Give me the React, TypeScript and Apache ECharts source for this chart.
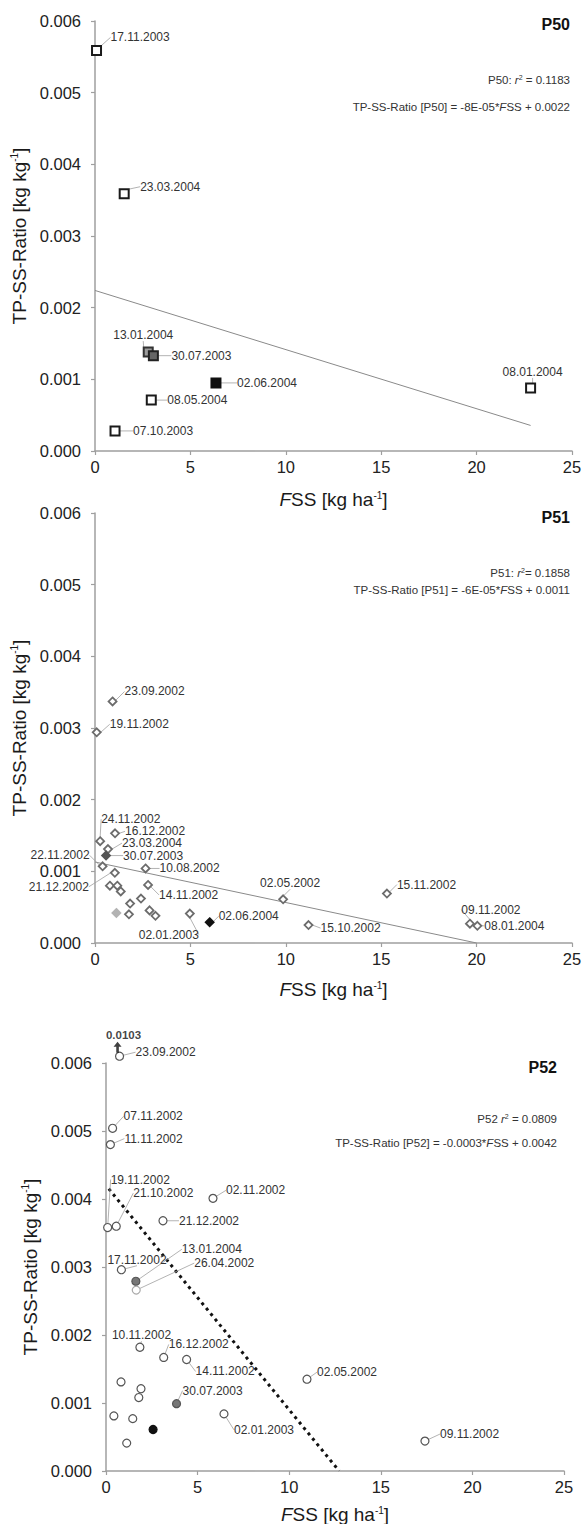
import React, { useEffect, useRef } from "react";
import * as echarts from "echarts";

type Align = "left" | "right" | "center";
type Kind = "open" | "pale" | "light" | "mid" | "solid";

const FONT = "'Liberation Sans', Arial, Helvetica, sans-serif";

// Shared axis ranges
const X_MIN = 0;
const X_MAX = 25;
const X_STEP = 5;
const Y_MIN = 0;
const Y_MAX = 0.006;
const Y_STEP = 0.001;
// Values above the ratio axis are pinned just over its top end
const Y_CEILING = 0.0061;

// ---------- P50 ----------
const P50_DATES = ["17.11.2003", "23.03.2004", "13.01.2004", "30.07.2003", "02.06.2004", "08.05.2004", "07.10.2003", "08.01.2004"];
const P50_FSS = [0.08, 1.53, 2.79, 3.06, 6.34, 2.95, 1.05, 22.83];
const P50_RATIO = [0.00559, 0.00359, 0.00138, 0.00133, 0.00095, 0.00071, 0.00028, 0.00088];
const P50_KIND: Kind[] = ["open", "open", "light", "mid", "solid", "open", "open", "open"];
const P50_FIT = [-0.0000825, 0.00224]; // slope, intercept
const P50_FIT_RANGE = [0, 22.83];
const P50_R2 = "0.1183";

// ---------- P51 ----------
const P51_DATES = [
  "23.09.2002", "19.11.2002", "24.11.2002", "16.12.2002", "23.03.2004", "30.07.2003", "22.11.2002",
  "10.08.2002", "21.12.2002", "14.11.2002", "", "", "", "", "", "", "", "", "",
  "02.01.2003", "02.06.2004", "02.05.2002", "15.10.2002", "15.11.2002", "09.11.2002", "08.01.2004",
];
const P51_FSS = [
  0.92, 0.09, 0.27, 1.05, 0.68, 0.58, 0.4, 2.65, 1.04, 2.78, 0.78, 1.17, 1.35, 2.41, 1.84, 1.12, 1.78,
  2.86, 3.17, 4.97, 6.01, 9.86, 11.19, 15.3, 19.65, 20.04,
];
const P51_RATIO = [
  0.00337, 0.00294, 0.00142, 0.00153, 0.00131, 0.00122, 0.00107, 0.00104, 0.00098, 0.00081, 0.0008,
  0.0008, 0.00072, 0.00062, 0.00055, 0.00042, 0.0004, 0.000455, 0.00038, 0.00041, 0.00029, 0.00061,
  0.00025, 0.00069, 0.00027, 0.00024,
];
const P51_KIND: Kind[] = [
  "open", "open", "open", "open", "open", "mid", "open", "open", "open", "open", "open", "open", "open",
  "open", "open", "light", "open", "open", "open", "open", "solid", "open", "open", "open", "open", "open",
];
const P51_FIT = [-0.0000565, 0.00113];
const P51_FIT_RANGE = [0, 20];
const P51_R2 = "0.1858";

// ---------- P52 ----------
const P52_DATES = [
  "23.09.2002", "07.11.2002", "11.11.2002", "19.11.2002", "21.10.2002", "02.11.2002", "21.12.2002",
  "17.11.2002", "13.01.2004", "26.04.2002", "10.11.2002", "16.12.2002", "14.11.2002", "02.05.2002",
  "", "", "", "30.07.2003", "", "", "02.01.2003", "", "", "09.11.2002",
];
const P52_FSS = [
  0.74, 0.36, 0.24, 0.09, 0.56, 5.84, 3.11, 0.84, 1.63, 1.65, 1.85, 3.15, 4.4, 10.97, 0.82, 1.91, 1.79,
  3.85, 0.43, 1.46, 6.44, 2.57, 1.13, 17.41,
];
const P52_RATIO = [
  0.0103, 0.00504, 0.0048, 0.00358, 0.0036, 0.00401, 0.00368, 0.00296, 0.00279, 0.00266, 0.00182,
  0.00167, 0.00164, 0.00135, 0.00131, 0.00121, 0.00108, 0.00099, 0.00081, 0.00077, 0.00084, 0.00061,
  0.00041, 0.00044,
];
const P52_KIND: Kind[] = [
  "open", "open", "open", "open", "open", "open", "open", "open", "mid", "pale", "open", "open", "open",
  "open", "open", "open", "open", "mid", "open", "open", "open", "solid", "open", "open",
];
const P52_FIT = [-0.00033, 0.0042];
const P52_FIT_RANGE = [0.15, 12.72];
const P52_R2 = "0.0809";

// Label placement: offset from the marker centre and text anchor
const P50_LABEL_POS: Record<string, [number, number, Align]> = {
  "17.11.2003": [14, -13, "left"],
  "23.03.2004": [16, -7, "left"],
  "13.01.2004": [-5, -17, "center"],
  "30.07.2003": [18, 0, "left"],
  "02.06.2004": [21, 0, "left"],
  "08.05.2004": [16, 0, "left"],
  "07.10.2003": [18, 0, "left"],
  "08.01.2004": [2, -16, "center"],
};
const P51_LABEL_POS: Record<string, [number, number, Align]> = {
  "23.09.2002": [12, -10, "left"],
  "19.11.2002": [13, -8, "left"],
  "24.11.2002": [1, -22, "left"],
  "16.12.2002": [10, -2, "left"],
  "23.03.2004": [14, -6, "left"],
  "30.07.2003": [17, 0, "left"],
  "22.11.2002": [-13, -11, "right"],
  "10.08.2002": [14, 0, "left"],
  "21.12.2002": [-26, 14, "right"],
  "14.11.2002": [11, 10, "left"],
  "02.01.2003": [9, 21, "right"],
  "02.06.2004": [9, -6, "left"],
  "02.05.2002": [7, -16, "center"],
  "15.10.2002": [12, 3, "left"],
  "15.11.2002": [10, -9, "left"],
  "09.11.2002": [21, -14, "center"],
  "08.01.2004": [7, 0, "left"],
};
const P52_LABEL_POS: Record<string, [number, number, Align]> = {
  "23.09.2002": [16, -4, "left"],
  "07.11.2002": [11, -12, "left"],
  "11.11.2002": [14, -6, "left"],
  "19.11.2002": [3, -48, "left"],
  "21.10.2002": [17, -33, "left"],
  "02.11.2002": [13, -8, "left"],
  "21.12.2002": [16, 0, "left"],
  "17.11.2002": [-14, -10, "left"],
  "13.01.2004": [46, -32, "left"],
  "26.04.2002": [58, -27, "left"],
  "10.11.2002": [-28, -12, "left"],
  "16.12.2002": [5, -13, "left"],
  "14.11.2002": [9, 12, "left"],
  "02.05.2002": [10, -7, "left"],
  "30.07.2003": [6, -13, "left"],
  "02.01.2003": [10, 16, "left"],
  "09.11.2002": [15, -7, "left"],
};

// Plot areas in pixels, plus text rows measured from each area's top
const LAYOUT = [
  { left: 95, top: 21, width: 477, height: 430, textRight: 570, titleDy: 3, r2Dy: 59, eqDy: 86, xNameGap: 39 },
  { left: 95, top: 513, width: 477, height: 430, textRight: 570, titleDy: 4, r2Dy: 60, eqDy: 77, xNameGap: 37 },
  { left: 106, top: 1063, width: 458, height: 408, textRight: 557, titleDy: 4, r2Dy: 56, eqDy: 80, xNameGap: 34 },
];

const MARKERS: Record<string, Record<Kind, { color: string; borderColor: string }>> = {
  rect: {
    open: { color: "#ffffff", borderColor: "#1a1a1a" },
    pale: { color: "#ffffff", borderColor: "#9a9a9a" },
    light: { color: "#9c9c9c", borderColor: "#333333" },
    mid: { color: "#666666", borderColor: "#222222" },
    solid: { color: "#111111", borderColor: "#111111" },
  },
  diamond: {
    open: { color: "#ffffff", borderColor: "#6c6c6c" },
    pale: { color: "#ffffff", borderColor: "#aaaaaa" },
    light: { color: "#b3b3b3", borderColor: "#b3b3b3" },
    mid: { color: "#555555", borderColor: "#555555" },
    solid: { color: "#111111", borderColor: "#111111" },
  },
  circle: {
    open: { color: "#ffffff", borderColor: "#555555" },
    pale: { color: "#ffffff", borderColor: "#aaaaaa" },
    light: { color: "#aaaaaa", borderColor: "#777777" },
    mid: { color: "#777777", borderColor: "#555555" },
    solid: { color: "#111111", borderColor: "#111111" },
  },
};

function fmtSlope(v: number): string {
  if (Math.abs(v) < 0.0001) {
    const [m, e] = v.toExponential(0).split("e");
    const exp = parseInt(e, 10);
    return `${m}E${exp < 0 ? "-" : "+"}${String(Math.abs(exp)).padStart(2, "0")}`;
  }
  return v.toFixed(4);
}

interface PanelDef {
  id: string;
  dates: string[];
  fss: number[];
  ratio: number[];
  kind: Kind[];
  labelPos: Record<string, [number, number, Align]>;
  fit: number[];
  fitRange: number[];
  r2Text: string;
  symbol: "rect" | "diamond" | "circle";
  symbolSize: number;
  borderWidth: number;
  fitStyle: any;
}

const PANELS: PanelDef[] = [
  {
    id: "P50", dates: P50_DATES, fss: P50_FSS, ratio: P50_RATIO, kind: P50_KIND, labelPos: P50_LABEL_POS,
    fit: P50_FIT, fitRange: P50_FIT_RANGE, r2Text: `P50: {i|r}{s|2} = ${P50_R2}`,
    symbol: "rect", symbolSize: 9, borderWidth: 2,
    fitStyle: { color: "#8a8a8a", width: 1 },
  },
  {
    id: "P51", dates: P51_DATES, fss: P51_FSS, ratio: P51_RATIO, kind: P51_KIND, labelPos: P51_LABEL_POS,
    fit: P51_FIT, fitRange: P51_FIT_RANGE, r2Text: `P51: {i|r}{s|2}= ${P51_R2}`,
    symbol: "diamond", symbolSize: 8, borderWidth: 1.8,
    fitStyle: { color: "#8a8a8a", width: 1 },
  },
  {
    id: "P52", dates: P52_DATES, fss: P52_FSS, ratio: P52_RATIO, kind: P52_KIND, labelPos: P52_LABEL_POS,
    fit: P52_FIT, fitRange: P52_FIT_RANGE, r2Text: `P52 {i|r}{s|2} = ${P52_R2}`,
    symbol: "circle", symbolSize: 8, borderWidth: 1.2,
    fitStyle: { color: "#111111", width: 3, type: [3, 4] },
  },
];

const ARROW_PATH = "path://M4,0 L8,5 L5.3,5 L5.3,11 L2.7,11 L2.7,5 L0,5 Z";

function buildOption() {
  const axisGray = "#9f9f9f";
  const nameRich = {
    i: { fontStyle: "italic", fontSize: 19, fontFamily: FONT, color: "#1a1a1a" },
    sup: { fontSize: 10, fontFamily: FONT, color: "#1a1a1a", verticalAlign: "top" },
  };

  const series: any[] = [];
  const graphic: any[] = [];

  PANELS.forEach((p, idx) => {
    const styles = MARKERS[p.symbol];
    series.push({
      type: "scatter",
      xAxisIndex: idx,
      yAxisIndex: idx,
      symbol: p.symbol,
      symbolSize: p.symbolSize,
      clip: false,
      silent: true,
      z: 3,
      itemStyle: { borderWidth: p.borderWidth, opacity: 1 },
      label: {
        show: true,
        position: "inside",
        fontSize: 12,
        fontFamily: FONT,
        color: "#333333",
        formatter: (params: any) => p.dates[params.dataIndex],
      },
      labelLine: { show: true, length2: 0, lineStyle: { color: "#a0a0a0", width: 0.8 } },
      labelLayout: (params: any) => {
        const pos = p.labelPos[p.dates[params.dataIndex]];
        if (!pos) return {};
        return { dx: pos[0], dy: pos[1], align: pos[2], verticalAlign: "middle" };
      },
      data: p.fss.map((x, i) => ({
        value: [x, Math.min(p.ratio[i], Y_CEILING)],
        itemStyle: styles[p.kind[i]],
        label: { show: p.dates[i] !== "" },
        labelLine: { show: p.dates[i] !== "" },
      })),
    });

    const [slope, intercept] = p.fit;
    series.push({
      type: "line",
      xAxisIndex: idx,
      yAxisIndex: idx,
      symbol: "none",
      silent: true,
      z: 2,
      lineStyle: p.fitStyle,
      data: p.fitRange.map((x) => [x, slope * x + intercept]),
    });

    // Arrows for values beyond the top of the ratio axis
    const overflow = p.ratio
      .map((v, i) => ({ v, i }))
      .filter((d) => d.v > Y_MAX);
    if (overflow.length) {
      series.push({
        type: "scatter",
        xAxisIndex: idx,
        yAxisIndex: idx,
        symbol: ARROW_PATH,
        symbolSize: [8, 11],
        symbolOffset: [-2, -9],
        clip: false,
        silent: true,
        z: 4,
        itemStyle: { color: "#111111" },
        label: {
          show: true,
          position: "top",
          distance: 1,
          offset: [6, 0],
          fontSize: 11.5,
          fontWeight: "bold",
          fontFamily: FONT,
          color: "#111111",
          formatter: (params: any) => params.data.actual.toFixed(4),
        },
        data: overflow.map((d) => ({ value: [p.fss[d.i], Y_CEILING], actual: d.v })),
      });
    }

    const g = LAYOUT[idx];
    graphic.push(
      {
        type: "text",
        x: g.textRight,
        y: g.top + g.titleDy,
        silent: true,
        style: {
          text: p.id,
          align: "right",
          verticalAlign: "middle",
          fontSize: 16,
          fontWeight: "bold",
          fontFamily: FONT,
          fill: "#111111",
        },
      },
      {
        type: "text",
        x: g.textRight,
        y: g.top + g.r2Dy,
        silent: true,
        style: {
          text: p.r2Text,
          align: "right",
          verticalAlign: "middle",
          fontSize: 11.5,
          fontFamily: FONT,
          fill: "#333333",
          rich: {
            i: { fontStyle: "italic", fontSize: 11.5, fontFamily: FONT, fill: "#333333" },
            s: { fontSize: 7, fontFamily: FONT, fill: "#333333", verticalAlign: "top" },
          },
        },
      },
      {
        type: "text",
        x: g.textRight,
        y: g.top + g.eqDy,
        silent: true,
        style: {
          text: `TP-SS-Ratio [${p.id}] = ${fmtSlope(slope)}*{i|F}SS + ${intercept.toFixed(4)}`,
          align: "right",
          verticalAlign: "middle",
          fontSize: 11.5,
          fontFamily: FONT,
          fill: "#333333",
          rich: {
            i: { fontStyle: "italic", fontSize: 11.5, fontFamily: FONT, fill: "#333333" },
          },
        },
      }
    );
  });

  return {
    animation: false,
    backgroundColor: "#ffffff",
    textStyle: { fontFamily: FONT },
    grid: LAYOUT.map((g) => ({
      left: g.left,
      top: g.top,
      width: g.width,
      height: g.height,
      containLabel: false,
      outerBoundsMode: "none",
    })),
    xAxis: LAYOUT.map((g, i) => ({
      gridIndex: i,
      type: "value",
      min: X_MIN,
      max: X_MAX,
      interval: X_STEP,
      axisLine: { show: true, onZero: false, lineStyle: { color: axisGray, width: 1.5 } },
      axisTick: { show: true, length: 4, lineStyle: { color: axisGray, width: 1.2 } },
      splitLine: { show: false },
      axisLabel: { fontSize: 16.5, color: "#222222", margin: 7, fontFamily: FONT },
      name: "{i|F}SS [kg ha{sup|-1}]",
      nameLocation: "middle",
      nameGap: g.xNameGap,
      nameTextStyle: { fontSize: 19, color: "#1a1a1a", fontFamily: FONT, rich: nameRich },
    })),
    yAxis: LAYOUT.map((_, i) => ({
      gridIndex: i,
      type: "value",
      min: Y_MIN,
      max: Y_MAX,
      interval: Y_STEP,
      axisLine: { show: true, onZero: false, lineStyle: { color: axisGray, width: 1.5 } },
      axisTick: { show: true, length: 4, lineStyle: { color: axisGray, width: 1.2 } },
      splitLine: { show: false },
      axisLabel: {
        fontSize: 16.5,
        color: "#222222",
        margin: 14,
        fontFamily: FONT,
        formatter: (v: number) => v.toFixed(3),
      },
      name: "TP-SS-Ratio [kg kg{sup|-1}]",
      nameLocation: "middle",
      nameGap: 60,
      nameTextStyle: { fontSize: 19, color: "#1a1a1a", fontFamily: FONT, rich: nameRich },
    })),
    series,
    graphic,
  };
}

export default function App() {
  const ref = useRef<HTMLDivElement>(null);
  useEffect(() => {
    if (!ref.current) return;
    const chart = echarts.init(ref.current, null, { renderer: "svg" });
    chart.setOption(buildOption() as any);
    return () => chart.dispose();
  }, []);
  return (
    <div
      ref={ref}
      style={{ position: "absolute", left: 0, top: 0, width: 582, height: 1524, background: "#ffffff" }}
    />
  );
}
